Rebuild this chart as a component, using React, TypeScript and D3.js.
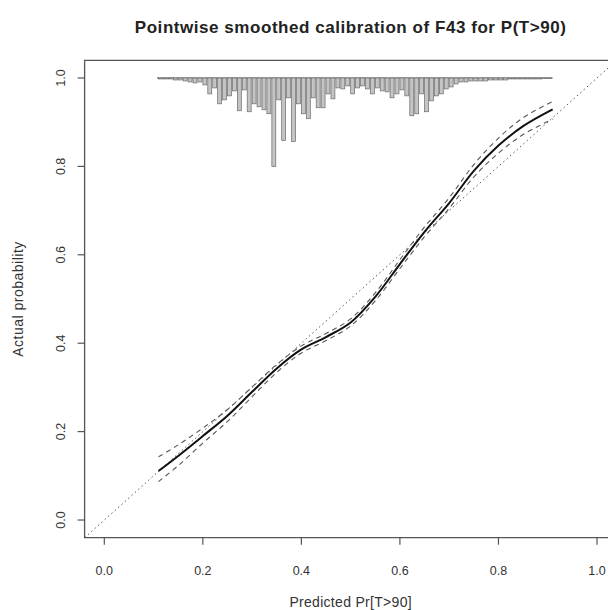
import React from "react";
import * as d3 from "d3";

const titleText = "Pointwise smoothed calibration of F43 for P(T>90)";
const xLabel = "Predicted Pr[T>90]";
const yLabel = "Actual probability";
const xTicks = [0, 0.2, 0.4, 0.6, 0.8, 1.0];
const yTicks = [0, 0.2, 0.4, 0.6, 0.8, 1.0];

// calibration curve (predicted -> actual)
const predGrid = [0.11, 0.15, 0.2, 0.25, 0.3, 0.35, 0.4, 0.45, 0.5, 0.55, 0.6, 0.65, 0.7, 0.75, 0.8, 0.85, 0.91];
const actualEst = [0.111, 0.145, 0.19, 0.236, 0.29, 0.343, 0.386, 0.414, 0.447, 0.505, 0.579, 0.652, 0.717, 0.79, 0.847, 0.891, 0.929];
const upperBand = [0.143, 0.17, 0.208, 0.25, 0.301, 0.352, 0.394, 0.422, 0.455, 0.514, 0.589, 0.663, 0.729, 0.804, 0.864, 0.91, 0.947];
const lowerBand = [0.087, 0.123, 0.174, 0.223, 0.279, 0.334, 0.378, 0.406, 0.439, 0.496, 0.569, 0.641, 0.705, 0.776, 0.83, 0.872, 0.907];

// histogram of predicted probabilities (bins of 0.01 from 0.11)
const histStart = 0.11;
const histBinWidth = 0.01;
const histCounts = [
  1, 1, 1, 2, 2, 3, 4, 5, 4, 7,
  16, 10, 26, 22, 18, 13, 33, 12, 34, 26,
  29, 32, 36, 89, 22, 63, 20, 64, 26, 36,
  41, 20, 30, 30, 16, 21, 10, 11, 8, 16,
  10, 8, 11, 16, 10, 13, 14, 20, 16, 12,
  18, 38, 36, 16, 34, 23, 18, 16, 11, 9,
  6, 4, 4, 3, 3, 3, 3, 2, 2, 2,
  2, 1, 1, 1, 1, 1, 1, 1, 0.5, 0.5,
];

const W = 608;
const H = 610;
const font = "'Liberation Sans', Arial, sans-serif";

export default function App() {
  const x = d3.scaleLinear().domain([-0.04, 1.04]).range([84.6, 616.7]);
  const y = d3.scaleLinear().domain([-0.04, 1.04]).range([537.7, 60.3]);
  const [x0, x1] = x.range();
  const [y0, y1] = y.range();

  const maxCount = d3.max(histCounts) as number;
  const hScale = d3.scaleLinear().domain([0, maxCount]).range([0, 0.2]);
  const bins = histCounts.map((c, i) => ({ lo: histStart + i * histBinWidth, c }));
  const barW = x(0.008) - x(0);

  const line = d3
    .line<[number, number]>()
    .x((d) => x(d[0]))
    .y((d) => y(d[1]))
    .curve(d3.curveCatmullRom.alpha(0.5));

  const mainPath = line(predGrid.map((p, i) => [p, actualEst[i]]) as [number, number][]) || "";
  const upPath = line(predGrid.map((p, i) => [p, upperBand[i]]) as [number, number][]) || "";
  const loPath = line(predGrid.map((p, i) => [p, lowerBand[i]]) as [number, number][]) || "";

  const axisColor = "#555";
  const textColor = "#333";

  return (
    <svg
      width={W}
      height={H}
      style={{ position: "absolute", left: 0, top: 0, background: "#fff" }}
      fontFamily={font}
    >
      <rect x={0} y={0} width={W} height={H} fill="#fff" />
      <defs>
        <clipPath id="plotclip">
          <rect x={x0} y={y1} width={x1 - x0} height={y0 - y1} />
        </clipPath>
      </defs>

      {/* title */}
      <text
        x={(x0 + x1) / 2}
        y={33}
        textAnchor="middle"
        fontWeight="bold"
        fontSize={17}
        letterSpacing={0.55}
        fill="#222"
      >
        {titleText}
      </text>

      <g clipPath="url(#plotclip)">
        {/* ideal diagonal */}
        <line
          x1={x(-0.04)}
          y1={y(-0.04)}
          x2={x(1.04)}
          y2={y(1.04)}
          stroke="#555"
          strokeWidth={1}
          strokeDasharray="1.5,3"
        />
        {/* histogram baseline */}
        <line
          x1={x(histStart - 0.003)}
          x2={x(histStart + histCounts.length * histBinWidth)}
          y1={y(1)}
          y2={y(1)}
          stroke="#555"
          strokeWidth={1.2}
        />
        {bins.map((b, i) => (
          <rect
            key={i}
            x={x(b.lo) - barW / 2 + 2}
            y={y(1)}
            width={barW}
            height={y(1 - hScale(b.c)) - y(1)}
            fill="#c4c4c4"
            stroke="#6a6a6a"
            strokeWidth={0.7}
          />
        ))}
        {/* bands */}
        <path d={upPath} fill="none" stroke="#555" strokeWidth={1.1} strokeDasharray="5,4" />
        <path d={loPath} fill="none" stroke="#555" strokeWidth={1.1} strokeDasharray="5,4" />
        {/* main curve */}
        <path d={mainPath} fill="none" stroke="#111" strokeWidth={2} />
      </g>

      {/* box (right side is cropped) */}
      <path
        d={`M${x1 + 5},${y1} L${x0},${y1} L${x0},${y0} L${x1 + 5},${y0}`}
        fill="none"
        stroke={axisColor}
        strokeWidth={1.3}
      />

      {/* x axis */}
      {xTicks.map((t) => (
        <g key={"xt" + t}>
          <line x1={x(t)} x2={x(t)} y1={y0} y2={y0 + 7} stroke={axisColor} strokeWidth={1.2} />
          <text x={x(t)} y={y0 + 37} textAnchor="middle" fontSize={12.5} fill={textColor}>
            {t.toFixed(1)}
          </text>
        </g>
      ))}
      {/* y axis */}
      {yTicks.map((t) => (
        <g key={"yt" + t}>
          <line x1={x0} x2={x0 - 7} y1={y(t)} y2={y(t)} stroke={axisColor} strokeWidth={1.2} />
          <text
            transform={`translate(${x0 - 24},${y(t)}) rotate(-90)`}
            textAnchor="middle"
            fontSize={12.5}
            fill={textColor}
            dy="0.35em"
          >
            {t.toFixed(1)}
          </text>
        </g>
      ))}

      <text x={(x0 + x1) / 2} y={607} textAnchor="middle" fontSize={14} letterSpacing={0.3} fill={textColor}>
        {xLabel}
      </text>
      <text
        transform={`translate(18,${(y0 + y1) / 2}) rotate(-90)`}
        textAnchor="middle"
        fontSize={14}
        letterSpacing={0.5}
        fill={textColor}
        dy="0.35em"
      >
        {yLabel}
      </text>
    </svg>
  );
}
